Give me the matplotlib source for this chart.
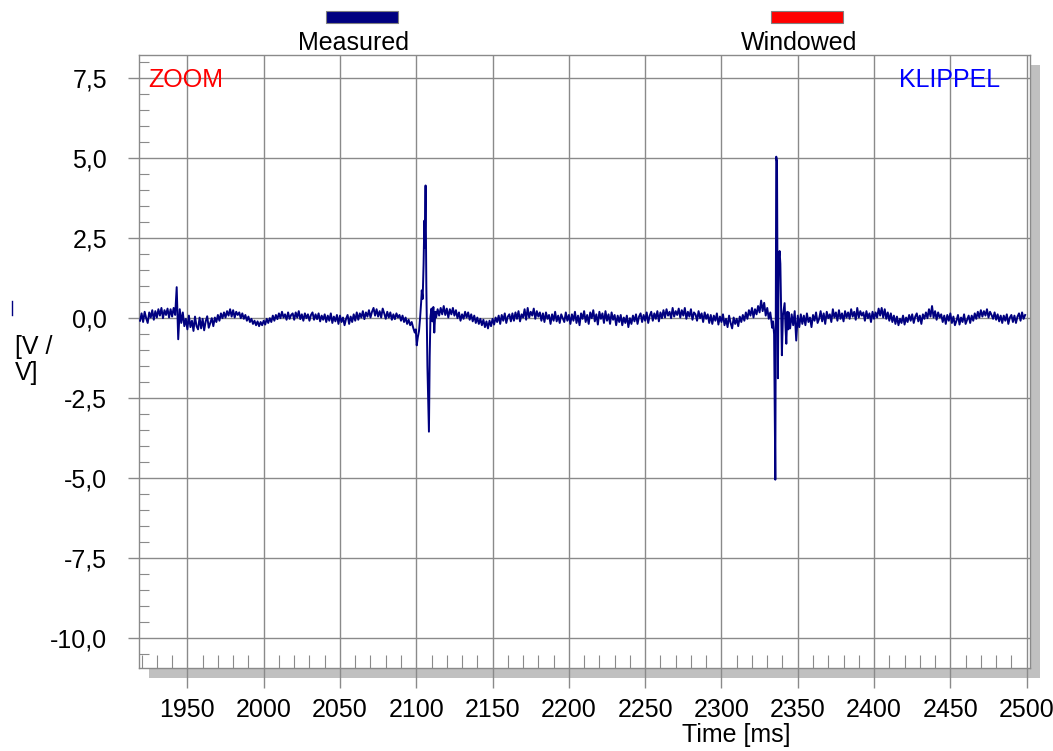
import numpy as np
import matplotlib
matplotlib.use("Agg")
import matplotlib.pyplot as plt
from matplotlib.patches import Rectangle
from matplotlib.lines import Line2D
from matplotlib.ticker import MultipleLocator, FixedLocator

plt.rcParams['font.family'] = ['Liberation Sans', 'DejaVu Sans']

# ---------------- data ----------------
# baseline segment A: 1 ms steps starting at 1919 ms
seg_a_start = 1919
seg_a = [
    -0.08, 0.15, -0.12, 0.2, 0.0, -0.15, 0.18, 0.02, 0.25, -0.05,
    0.22, 0.02, 0.28, 0.08, 0.32, 0.0, 0.25, 0.1, 0.3, 0.02,
    0.28, 0.05, 0.32, 0.1, 0.97, -0.66, 0.28, -0.15, 0.18, -0.25,
    -0.02, -0.35, 0.08, -0.28, -0.08, -0.4, 0.05, -0.25, -0.35, 0.02,
    -0.32, -0.02, -0.38, -0.1, 0.06, -0.3, -0.15, 0.0, -0.25, 0.02,
    -0.12, 0.1, -0.08, 0.15, 0.0, 0.18, 0.02, 0.22, 0.08, 0.28,
    0.05, 0.25, 0.02, 0.2, 0.1, 0.18, 0.0, 0.15, -0.02, 0.1,
    -0.08, 0.05, -0.12, -0.02, -0.18, -0.08, -0.22, -0.1, -0.25, -0.12,
    -0.22, -0.08, -0.2, -0.02, -0.15, 0.0, -0.12, 0.08, -0.08, 0.1,
    -0.03, 0.15, 0.0, 0.2, 0.02, 0.12, -0.05, 0.18, -0.02, 0.1,
    0.15, -0.05, 0.18, 0.02, 0.22, -0.03, 0.12, -0.08, 0.15, 0.0,
    0.12, -0.08, 0.1, 0.18, -0.05, 0.12, -0.03, 0.15, -0.1, 0.08,
    -0.05, 0.12, -0.12, 0.08, -0.08, 0.15, -0.15, 0.05, -0.1, 0.1,
    -0.18, 0.08, -0.12, 0.02, -0.22, -0.02, 0.1, -0.18, 0.05, -0.12,
    0.12, -0.08, 0.18, -0.05, 0.15, 0.02, 0.22, -0.03, 0.18, 0.05,
    0.25, 0.02, 0.2, 0.32, 0.08, 0.28, 0.05, 0.22, 0.02, 0.3,
    0.15, -0.02, 0.2, 0.02, 0.18, -0.05, 0.12, -0.03, 0.15, 0.02,
    0.1, -0.08, 0.08, -0.12, 0.02, -0.18, -0.05, -0.22, -0.12, -0.3,
]

# first pulse (explicit times)
pulse1_t = [2099, 2099.7, 2100.3, 2101, 2101.8, 2102.5, 2103.2, 2103.6, 2104.2,
            2104.8, 2105.3, 2105.6, 2106.1, 2106.6, 2107.3, 2108.3, 2108.8,
            2109.3, 2110, 2110.6, 2111.2, 2111.8, 2112.5]
pulse1_v = [-0.45, -0.35, -0.85, -0.6, -0.4, 0.0, 0.5, 0.87, 0.6,
            1.7, 3.05, 2.2, 4.15, 1.0, -1.5, -3.55, -1.2,
            0.05, 0.3, -0.1, 0.35, -0.45, 0.2]

# baseline segment B: 1 ms steps starting at 2113 ms
seg_b_start = 2113
seg_b = [
    0.02, 0.28, 0.08, 0.32, 0.12, 0.38, 0.1, 0.3, 0.02, 0.28,
    0.12, 0.32, 0.08, 0.25, 0.0, 0.18, -0.08, 0.12, -0.02, 0.2,
    0.02, 0.18, -0.05, 0.12, -0.1, 0.08, -0.15, 0.02, -0.18, -0.02,
    -0.22, -0.05, -0.28, -0.1, -0.32, -0.08, -0.25, -0.02, -0.2, 0.02,
    -0.12, 0.08, -0.18, 0.1, -0.08, 0.15, -0.15, 0.05, 0.12, -0.1,
    0.15, -0.08, 0.18, -0.02, 0.22, -0.1, 0.12, 0.02, 0.28, -0.05,
    0.32, 0.02, 0.2, 0.08, 0.3, -0.02, 0.22, 0.05, 0.18, -0.08,
    0.15, -0.12, 0.18, -0.02, 0.1, -0.18, 0.12, -0.08, 0.2, -0.1,
    0.08, -0.15, 0.12, 0.0, -0.12, 0.18, -0.08, 0.1, -0.18, 0.12,
    -0.08, 0.2, -0.15, 0.08, -0.22, 0.15, -0.02, 0.22, -0.12, 0.1,
    -0.18, 0.18, 0.0, 0.25, -0.1, 0.12, -0.2, 0.2, -0.02, 0.15,
    -0.15, 0.22, -0.08, 0.12, -0.18, 0.18, -0.05, 0.1, -0.22, 0.08,
    -0.12, 0.1, -0.22, 0.02, -0.15, 0.08, -0.28, 0.0, -0.18, 0.08,
    -0.1, 0.12, -0.18, 0.05, 0.15, -0.12, 0.1, -0.08, 0.18, -0.15,
    0.08, 0.2, -0.08, 0.15, -0.02, 0.22, -0.1, 0.18, 0.0, 0.25,
    0.02, 0.28, 0.08, 0.2, 0.0, 0.32, 0.05, 0.22, 0.1, 0.3,
    0.02, 0.25, 0.08, 0.32, -0.02, 0.2, 0.05, 0.28, -0.05, 0.18,
    0.12, -0.08, 0.22, 0.0, 0.15, -0.12, 0.18, -0.02, 0.12, -0.15,
    0.1, -0.18, 0.08, -0.08, 0.15, -0.2, 0.05, -0.12, 0.12, -0.22,
    -0.02, -0.28, 0.08, -0.15, -0.32, 0.02, -0.18, -0.02, -0.25, 0.05,
    -0.12, 0.1, -0.08, 0.18, -0.02, 0.25, 0.08, 0.32, 0.02, 0.28,
    0.12, 0.38, 0.18, 0.55, 0.22, 0.48, 0.08, 0.32, -0.02, 0.18,
]

# second pulse (explicit times)
pulse2_t = [2332.5, 2333.2, 2333.8, 2334.5, 2335.3, 2335.9, 2336.4, 2337.0,
            2337.5, 2338.1, 2338.6, 2339.6, 2340.3, 2341.4, 2342.0, 2342.5,
            2343.2, 2343.8]
pulse2_v = [0.0, -0.3, -0.1, -0.5, -5.05, 5.05, 4.9, -1.88,
            1.8, 2.1, 1.7, -1.16, 0.1, 0.47, -0.3, -0.8,
            0.2, -0.35]

# baseline segment C: 1 ms steps starting at 2344 ms
seg_c_start = 2344
seg_c = [
    0.18, -0.32, 0.12, -0.22, 0.22, -0.7, 0.08, -0.28, 0.12, -0.18,
    0.08, -0.22, 0.15, -0.12, 0.02, -0.28, 0.1, -0.08, 0.18, -0.15,
    -0.02, 0.22, -0.1, 0.15, -0.18, 0.2, 0.0, 0.12, -0.12, 0.28,
    0.02, 0.18, -0.08, 0.25, -0.02, 0.15, -0.1, 0.22, 0.02, 0.18,
    -0.02, 0.28, 0.05, 0.2, -0.05, 0.32, 0.02, 0.22, 0.08, 0.18,
    -0.08, 0.22, 0.0, 0.15, -0.12, 0.2, -0.02, 0.18, 0.02, 0.3,
    0.08, 0.32, 0.02, 0.28, -0.02, 0.18, -0.08, 0.15, -0.12, 0.08,
    -0.18, 0.05, -0.22, -0.02, -0.15, 0.08, -0.2, 0.02, -0.12, 0.1,
    -0.08, 0.12, -0.15, 0.05, 0.15, -0.1, 0.08, -0.18, 0.12, -0.02,
    0.18, 0.0, 0.28, 0.05, 0.38, 0.02, 0.22, -0.05, 0.18, 0.02,
    0.12, -0.12, 0.08, -0.18, 0.1, -0.08, 0.15, -0.15, 0.05, -0.22,
    -0.08, 0.1, -0.2, 0.02, -0.12, 0.12, -0.18, -0.05, 0.08, -0.15,
    0.08, -0.08, 0.15, -0.02, 0.2, 0.02, 0.25, 0.05, 0.22, 0.08,
    0.28, 0.02, 0.2, 0.1, -0.02, 0.18, -0.05, 0.12, -0.1, 0.08,
    -0.15, 0.08, -0.08, 0.12, -0.18, 0.02, 0.1, -0.12, 0.08, -0.15,
    0.05, 0.15, -0.08, 0.18, -0.02, 0.1,
]

x_ticks = [1950, 2000, 2050, 2100, 2150, 2200, 2250, 2300, 2350, 2400, 2450, 2500]
y_ticks = [7.5, 5.0, 2.5, 0.0, -2.5, -5.0, -7.5, -10.0]
y_tick_labels = ["7,5", "5,0", "2,5", "0,0", "-2,5", "-5,0", "-7,5", "-10,0"]
legend_labels = ["Measured", "Windowed"]
legend_colors = ["#000080", "#ff0000"]

# ---------------- assemble trace ----------------
t = np.concatenate([
    seg_a_start + np.arange(len(seg_a)),
    np.array(pulse1_t),
    seg_b_start + np.arange(len(seg_b)),
    np.array(pulse2_t),
    seg_c_start + np.arange(len(seg_c)),
])
v = np.concatenate([seg_a, pulse1_v, seg_b, pulse2_v, seg_c])

# ---------------- figure ----------------
W, H = 1053, 751
fig = plt.figure(figsize=(W / 100, H / 100), dpi=100)

def fx(px):
    return px / W

def fy(py):
    return 1 - py / H

ax_l, ax_r, ax_t, ax_b = 139, 1030, 55, 668
ax = fig.add_axes([fx(ax_l), fy(ax_b), fx(ax_r - ax_l), (ax_b - ax_t) / H])

# shadow
shadow_c = "#c0c0c0"
fig.add_artist(Rectangle((fx(ax_r), fy(ax_b + 10)), fx(10), (ax_b - ax_t) / H,
                         transform=fig.transFigure, color=shadow_c, zorder=-1, lw=0))
fig.add_artist(Rectangle((fx(ax_l + 10), fy(ax_b + 10)), fx(ax_r - ax_l), 10 / H,
                         transform=fig.transFigure, color=shadow_c, zorder=-1, lw=0))

ax.plot(t, v, color="#000080", lw=1.4, zorder=3)

ax.set_xlim(1918.3, 2502.2)
ax.set_ylim(-10.94, 8.23)

grid_c = "#8a8a8a"
ax.xaxis.set_major_locator(FixedLocator(x_ticks))
ax.xaxis.set_minor_locator(MultipleLocator(10))
ax.yaxis.set_major_locator(FixedLocator(y_ticks))
ax.yaxis.set_minor_locator(MultipleLocator(0.5))
ax.set_xticklabels([str(x) for x in x_ticks])
ax.set_yticklabels(y_tick_labels)
ax.grid(True, which="major", color=grid_c, lw=1.0)
ax.set_axisbelow(True)

FS = 18
ax.tick_params(axis="x", which="major", direction="out", length=14.4, width=1.0,
               color=grid_c, labelsize=FS, pad=7.5)
ax.tick_params(axis="x", which="minor", direction="in", length=9.4, width=0.8,
               color=grid_c)
ax.tick_params(axis="y", which="major", direction="out", length=8, width=1.0,
               color=grid_c, labelsize=FS, pad=15)
ax.tick_params(axis="y", which="minor", direction="in", length=7.2, width=0.8,
               color=grid_c)
for s in ax.spines.values():
    s.set_color(grid_c)
    s.set_linewidth(1.0)

# texts
fig.text(fx(148), fy(80), "ZOOM", color="#ff0000", fontsize=FS, va="center", ha="left")
fig.text(fx(950), fy(80), "KLIPPEL", color="#0000ff", fontsize=FS, va="center", ha="center")

fig.text(fx(15), fy(360), "[V /\nV]", fontsize=FS, va="center", ha="left", linespacing=1.15)
fig.add_artist(Line2D([fx(11.7), fx(11.7)], [fy(301), fy(315)], color="#000080", lw=1.0,
                      transform=fig.transFigure))
fig.text(fx(736), fy(735), "Time [ms]", fontsize=FS, va="center", ha="center")

# legend
for lab, col, rx in zip(legend_labels, legend_colors, [326, 771]):
    fig.add_artist(Rectangle((fx(rx), fy(22.5)), fx(72), 12 / H, transform=fig.transFigure,
                             facecolor=col, edgecolor="#808080", lw=0.8))
    fig.text(fx(rx + 28), fy(43), lab, fontsize=FS, va="center", ha="center")

fig.savefig("out.png", dpi=100)
